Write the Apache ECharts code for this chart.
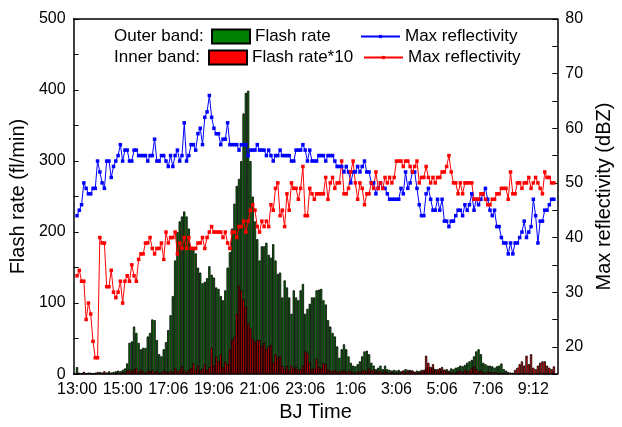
<!DOCTYPE html>
<html><head><meta charset="utf-8">
<script src="https://cdn.jsdelivr.net/npm/echarts@6/dist/echarts.min.js"></script>
<style>html,body{margin:0;padding:0;background:#fff}#c{width:622px;height:427px}</style>
</head><body><div id="c"></div>
<script>
const tickLabels = ['13:00','15:00','17:06','19:06','21:06','23:06','1:06','3:06','5:06','7:06','9:12'];

// Outer band flash rate (fl/min), one value per radar scan
const outerFlash = [
 10,2,1,3,1,2,1,1,2,1,3,2,1,2,4,2,3,4,5,
 4,6,8,15,44,46,67,58,44,35,37,37,53,58,77,
 76,48,28,25,35,45,62,83,110,160,200,215,222,229,222,205,
 178,176,170,150,143,128,130,135,152,140,136,122,120,110,104,118,150,172,205,240,265,275,300,367,396,399,
 300,250,215,190,160,180,180,185,168,164,183,160,141,143,108,132,122,108,85,
 118,108,104,118,127,85,92,99,108,108,118,119,120,104,98,76,67,58,53,39,
 23,35,42,35,25,16,12,11,14,18,25,32,33,28,16,12,7,9,12,7,12,7,6,5,6,5,
 6,4,5,7,4,6,5,3,5,4,6,5,8,10,8,9,7,6,8,5,
 6,7,5,8,7,9,10,12,11,13,16,18,20,25,32,35,28,16,14,12,
 12,11,9,11,12,15,7,5,3,2,2,1,2,1,2,1,2,1,1,2,
 1,1,2,1,1,2,1,1,2
];

// Inner band flash rate * 10
const innerFlash10 = [
 2,1,1,3,1,2,2,1,1,3,1,2,4,2,1,2,2,1,2,2,3,2,5,6,4,7,8,3,6,4,2,5,4,
 6,3,4,2,3,5,4,3,5,3,9,4,6,11,5,3,6,8,15,6,12,5,8,14,6,10,37,12,25,18,28,10,18,14,35,48,
 53,85,125,118,105,95,72,65,50,46,48,48,40,44,35,39,41,16,28,23,25,12,7,12,5,12,8,10,6,7,12,32,30,16,7,8,
 22,10,8,16,14,6,5,4,6,3,5,4,6,3,5,4,3,2,4,3,5,6,4,8,5,6,4,3,5,2,4,3,2,3,1,2,
 2,3,5,3,6,4,5,3,2,3,4,6,26,16,10,14,5,7,8,10,6,4,3,2,3,2,4,5,3,6,4,5,8,11,7,
 4,5,3,2,4,3,2,3,2,1,2,1,2,1,2,1,6,9,14,18,12,26,14,28,9,7,12,16,18,18,12,9,7,11
];

// Outer band max reflectivity (dBZ)
const outerRefl = [
 44,45,46,50,49,48,48,49,49,54,52,50,49,54,54,51,53,54,55,57,54,56,56,54,54,56,56,55,55,55,55,54,55,55,
 58,54,54,55,55,54,53,55,53,55,56,54,55,61,54,55,57,57,56,59,60,57,62,63,66,62,60,59,59,57,58,58,61,57,57,
 57,57,56,57,57,57,55,56,56,56,57,56,56,56,55,56,55,54,55,55,56,55,55,55,55,54,54,56,56,56,57,56,54,56,54,54,
 54,55,55,55,54,55,55,55,54,53,53,53,52,53,52,50,52,52,53,52,53,54,52,52,50,50,48,49,50,49,49,48,47,47,47,47,
 47,49,48,52,49,50,52,52,49,46,44,44,48,49,47,45,45,47,45,47,43,43,42,43,43,44,45,45,44,46,45,46,48,45,47,
 46,47,48,49,47,45,44,45,42,42,40,39,39,37,39,37,39,39,40,41,43,40,41,42,47,44,39,43,43,45,45,46,47,47
];

// Inner band max reflectivity (dBZ)
const innerRefl = [
 33,34,32,32,25,28,26,21,18,18,40,39,39,31,31,34,30,29,30,32,28,32,33,32,35,33,32,36,37,37,39,39,40,38,
 37,38,38,39,36,41,39,40,40,41,37,39,38,40,38,40,38,38,38,39,39,40,38,40,41,42,41,41,41,41,40,41,39,38,41,
 41,40,42,42,43,41,43,45,46,45,42,41,43,42,43,42,46,45,49,50,44,45,42,48,45,50,49,49,47,49,53,44,44,49,48,47,
 48,48,48,48,51,47,50,51,49,50,50,54,48,48,49,52,54,50,47,50,49,46,48,48,50,49,52,49,50,49,51,50,51,50,51,54,
 54,54,53,54,54,53,52,53,54,50,51,51,53,51,50,51,50,51,51,52,52,53,55,52,50,50,48,50,48,50,50,50,50,47,47,
 47,48,48,47,46,46,47,47,48,48,49,49,49,47,52,48,48,50,50,49,50,50,51,49,50,51,50,49,48,52,51,51,50,50
];

const N = Math.max(outerFlash.length, innerFlash10.length, outerRefl.length, innerRefl.length) + 2;
const cats = Array.from({length: N}, (_, i) => 'c' + i);
const pad = a => { const r = [null].concat(a); while (r.length < N) r.push(null); return r; };
const showIdx = i => i >= 1 && (i - 1) % 20 === 0 && (i - 1) / 20 < tickLabels.length;
const FONT = 'Liberation Sans';
const black = '#000';

const chart = echarts.init(document.getElementById('c'), null, {renderer: 'canvas'});
const legendBase = {padding: 0, selectedMode: false, textStyle: {fontSize: 17, color: black, fontFamily: FONT}, formatter: n => n.trim()};
chart.setOption({
  animation: false,
  textStyle: {fontFamily: FONT},
  grid: {left: 73, right: 55, top: 19, bottom: 47, containLabel: false},
  graphic: [
    {type: 'text', left: 114, top: 28, style: {text: 'Outer band:', fontSize: 17, fontFamily: FONT, fill: black}},
    {type: 'text', left: 114, top: 49, style: {text: 'Inner band:', fontSize: 17, fontFamily: FONT, fill: black}}
  ],
  legend: [
    Object.assign({}, legendBase, {data: ['Flash rate'], left: 211, top: 28, itemWidth: 38, itemHeight: 14, icon: 'rect'}),
    Object.assign({}, legendBase, {data: ['Max reflectivity'], left: 360, top: 28, itemWidth: 39, itemHeight: 4}),
    Object.assign({}, legendBase, {data: ['Flash rate*10'], left: 208, top: 49, itemWidth: 38, itemHeight: 14, icon: 'rect'}),
    Object.assign({}, legendBase, {data: ['Max reflectivity '], left: 363, top: 49, itemWidth: 39, itemHeight: 4})
  ],
  xAxis: [
    {type: 'category', data: cats, position: 'bottom', boundaryGap: true,
     axisLine: {lineStyle: {color: black, width: 1.5}},
     axisTick: {inside: true, length: 5, interval: i => showIdx(i), alignWithLabel: true, lineStyle: {color: black}},
     axisLabel: {interval: i => showIdx(i), formatter: (v, i) => tickLabels[(i - 1) / 20], fontSize: 16, color: black, margin: 7},
     name: 'BJ Time', nameLocation: 'middle', nameGap: 26, nameTextStyle: {fontSize: 20, color: black}},
    {type: 'category', data: cats, position: 'top', boundaryGap: true,
     axisLine: {lineStyle: {color: black, width: 1.5}},
     axisTick: {inside: true, length: 5, interval: i => showIdx(i), alignWithLabel: true, lineStyle: {color: black}},
     axisLabel: {show: false}}
  ],
  yAxis: [
    {type: 'value', min: 0, max: 500, interval: 50, position: 'left',
     axisLine: {show: true, lineStyle: {color: black, width: 1.5}},
     axisTick: {show: true, inside: true, length: 5, lineStyle: {color: black}},
     splitLine: {show: false},
     axisLabel: {formatter: v => (v % 100 === 0 ? String(v) : ''), fontSize: 16, color: black, margin: 8},
     name: 'Flash rate (fl/min)', nameLocation: 'middle', nameRotate: 90, nameGap: 40, nameTextStyle: {fontSize: 20, color: black}},
    {type: 'value', min: 15, max: 80, interval: 5, position: 'right',
     axisLine: {show: true, lineStyle: {color: black, width: 1.5}},
     axisTick: {show: true, inside: true, length: 5, lineStyle: {color: black}},
     splitLine: {show: false},
     axisLabel: {formatter: v => (v % 10 === 0 ? String(v) : ''), fontSize: 16, color: black, margin: 8},
     name: 'Max reflectivity (dBZ)', nameLocation: 'middle', nameRotate: 90, nameGap: 32, nameTextStyle: {fontSize: 20, color: black}}
  ],
  series: [
    {name: 'Flash rate', type: 'bar', data: pad(outerFlash), xAxisIndex: 0, yAxisIndex: 0,
     barCategoryGap: '0%', barGap: '-100%',
     itemStyle: {color: '#008000', borderColor: black, borderWidth: 0.8}},
    {name: 'Flash rate*10', type: 'bar', data: pad(innerFlash10), xAxisIndex: 0, yAxisIndex: 0,
     barCategoryGap: '0%', barGap: '-100%',
     itemStyle: {color: '#ff0000', borderColor: black, borderWidth: 0.8}},
    {name: 'Max reflectivity', type: 'line', data: pad(outerRefl), xAxisIndex: 0, yAxisIndex: 1,
     symbol: 'rect', symbolSize: 3.5, showAllSymbol: true, z: 5,
     lineStyle: {color: '#0000ff', width: 1}, itemStyle: {color: '#0000ff'}},
    {name: 'Max reflectivity ', type: 'line', data: pad(innerRefl), xAxisIndex: 0, yAxisIndex: 1,
     symbol: 'rect', symbolSize: 3.5, showAllSymbol: true, z: 5,
     lineStyle: {color: '#ff0000', width: 1}, itemStyle: {color: '#ff0000'}}
  ]
});
</script>
</body></html>
